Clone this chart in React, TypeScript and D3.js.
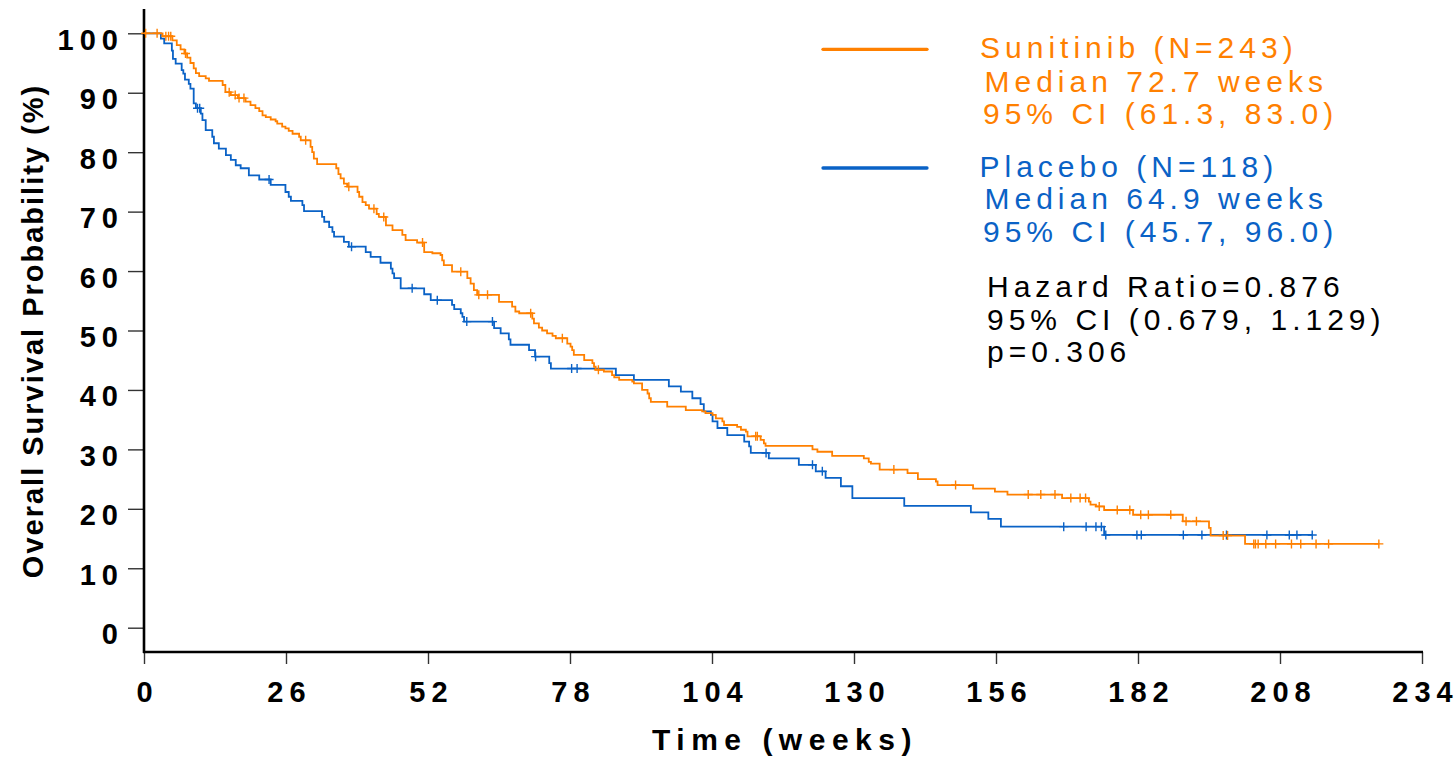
import React, { useEffect, useRef } from "react";
import * as d3 from "d3";

// Kaplan-Meier steps: [week, survival %]
const sunitinibSteps: [number, number][] = [
  [0, 100], [3.4, 99.5], [5.2, 98.8], [6.0, 98.0], [6.7, 97.3], [7.4, 96.6], [7.9, 95.9], [8.5, 95.0],
  [9.1, 94.1], [9.5, 93.3], [10.1, 92.8], [11.3, 92.4], [11.9, 92.0], [14.4, 91.3], [14.9, 90.1],
  [15.9, 89.6], [17.2, 89.1], [18.6, 88.5], [19.5, 87.9], [20.4, 87.4], [21.1, 86.9], [21.7, 86.2],
  [22.3, 85.9], [23.2, 85.5], [24.1, 85.2], [24.4, 84.8], [25.3, 84.3], [25.9, 84.0], [26.5, 83.6],
  [27.2, 83.1], [28.4, 82.6], [28.7, 82.0], [30.5, 80.9], [30.8, 80.0], [31.1, 78.9], [31.7, 78.0],
  [35.2, 77.3], [35.6, 76.3], [36.0, 75.6], [36.6, 74.7], [37.2, 74.2], [39.1, 73.3], [39.4, 72.5],
  [40.0, 71.6], [40.6, 71.1], [41.2, 70.5], [42.6, 69.6], [43.0, 69.1], [44.3, 67.7], [45.5, 66.9],
  [47.3, 66.1], [47.9, 65.2], [50.0, 64.8], [51.3, 63.2], [52.8, 63.0], [54.3, 62.7], [54.6, 61.8],
  [54.9, 61.0], [56.4, 59.9], [59.2, 58.8], [59.8, 57.9], [60.4, 56.8], [61.0, 56.0], [65.0, 54.8],
  [67.4, 54.0], [68.0, 53.2], [68.7, 52.9], [71.1, 52.0], [71.4, 51.2], [72.3, 50.5], [72.9, 50.0],
  [73.8, 49.5], [74.8, 49.1], [75.4, 48.7], [77.5, 47.8], [78.1, 47.3], [78.4, 46.7], [78.7, 45.9],
  [80.6, 45.0], [82.1, 44.5], [82.4, 43.9], [82.7, 43.4], [84.2, 43.1], [85.7, 42.5], [86.1, 42.1],
  [87.0, 41.7], [89.4, 41.4], [89.7, 41.1], [91.2, 40.0], [92.2, 39.4], [92.5, 38.6], [92.8, 38.0],
  [95.8, 37.2], [99.2, 36.6], [102.2, 36.4], [102.8, 36.1], [104.1, 35.8], [104.7, 35.2], [105.9, 34.7],
  [106.2, 34.1], [108.6, 33.8], [109.3, 33.3], [110.2, 33.0], [110.5, 32.2], [112.9, 31.6], [113.5, 31.0],
  [113.8, 30.6], [122.4, 30.0], [123.3, 29.6], [126.0, 28.9], [131.8, 28.5], [132.7, 27.9], [133.1, 27.6],
  [134.7, 26.6], [139.8, 26.0], [141.7, 25.0], [145.0, 24.6], [145.3, 24.0], [151.8, 23.4], [155.8, 22.9],
  [158.1, 22.4], [168.1, 21.8], [173.0, 21.2], [173.3, 20.7], [174.3, 20.4], [175.8, 19.8], [181.1, 19.0],
  [190.2, 17.9], [195.0, 16.8], [195.3, 15.5], [201.6, 14.1],
];
const sunitinibEnd = 226.1;
const sunitinibCensor = [
  0.3, 2.4, 4.0, 4.5, 4.9, 7.6, 15.6, 16.7, 17.4, 18.3, 29.6, 37.5, 42.1, 43.9, 51.0, 58.0, 61.3, 62.9,
  70.8, 76.6, 83.2, 112.0, 112.3, 137.3, 148.6, 161.9, 164.2, 166.8, 169.7, 171.4, 172.4, 174.9, 178.2,
  180.5, 182.5, 183.9, 188.0, 190.8, 192.7, 197.6, 198.4, 203.2, 203.5, 204.0, 205.4, 207.2, 210.1,
  211.8, 214.6, 216.9, 226.1,
];

const placeboSteps: [number, number][] = [
  [0, 100], [3.1, 99.1], [3.7, 98.3], [5.1, 97.1], [5.3, 95.7], [5.8, 94.9], [6.9, 93.8], [7.2, 93.2],
  [7.5, 92.2], [8.2, 91.5], [8.5, 90.7], [9.1, 88.2], [9.5, 87.4], [10.4, 86.5], [10.7, 85.4], [11.3, 83.7],
  [12.5, 82.6], [12.8, 81.5], [13.7, 80.6], [15.0, 79.5], [15.9, 78.7], [16.8, 77.8], [17.7, 77.3],
  [19.2, 76.1], [21.1, 75.4], [23.2, 74.5], [25.9, 73.3], [26.5, 72.5], [26.9, 71.8], [29.0, 71.1],
  [29.3, 70.1], [32.6, 69.1], [33.0, 68.3], [33.9, 67.4], [34.5, 66.6], [34.8, 65.8], [36.6, 64.9],
  [37.5, 64.1], [40.6, 63.2], [41.5, 62.4], [43.3, 61.4], [45.2, 60.4], [45.5, 59.6], [45.8, 58.8],
  [47.0, 57.1], [51.3, 56.1], [52.5, 55.1], [56.4, 54.3], [56.8, 53.6], [58.0, 52.9], [58.3, 52.3],
  [58.6, 51.5], [64.1, 50.4], [65.3, 49.5], [66.8, 48.5], [67.1, 47.6], [70.5, 46.7], [71.6, 45.6],
  [74.2, 44.5], [74.5, 43.6], [86.4, 42.5], [89.7, 41.7], [96.1, 40.6], [98.3, 39.7], [100.4, 38.6],
  [101.9, 37.6], [102.5, 36.4], [103.8, 35.8], [104.1, 34.7], [105.0, 33.6], [106.8, 32.4], [109.9, 31.3],
  [110.8, 30.5], [111.1, 29.4], [114.4, 28.5], [119.9, 27.4], [123.0, 26.3], [124.8, 25.2], [127.6, 23.8],
  [129.7, 21.8], [139.2, 20.5], [151.4, 19.4], [154.6, 18.3], [156.9, 17.0], [175.8, 15.6],
];
const placeboEnd = 213.9;
const placeboCensor = [
  9.8, 10.2, 22.9, 38.0, 49.1, 53.7, 59.1, 63.8, 71.7, 78.3, 79.3, 113.9, 122.4, 124.2, 168.4, 172.5,
  174.3, 175.3, 176.1, 181.8, 182.6, 190.3, 193.7, 198.2, 205.6, 209.7, 211.1, 213.9,
];

const xTicks = [0, 26, 52, 78, 104, 130, 156, 182, 208, 234];
const yTicks = [0, 10, 20, 30, 40, 50, 60, 70, 80, 90, 100];

const sunitinibLabel = ["Sunitinib (N=243)", "Median 72.7 weeks", "95% CI (61.3, 83.0)"];
const placeboLabel = ["Placebo (N=118)", "Median 64.9 weeks", "95% CI (45.7, 96.0)"];
const statsLabel = ["Hazard Ratio=0.876", "95% CI (0.679, 1.129)", "p=0.306"];

const ORANGE = "#ff8000";
const BLUE = "#0a62c6";
const FONT = "'Liberation Sans', Arial, Helvetica, sans-serif";

function survivalAt(steps: [number, number][], t: number) {
  let s = steps[0][1];
  for (const [time, v] of steps) {
    if (time <= t) s = v;
    else break;
  }
  return s;
}

// spaced digits without trailing letter-spacing, so anchors stay on the ink
function spaceOut(sel: any, gap: number) {
  sel.each(function (this: SVGTextElement) {
    const t = d3.select(this);
    const s = t.text();
    t.text(null);
    s.split("").forEach((c, i) => {
      t.append("tspan").attr("dx", i ? gap : 0).text(c);
    });
  });
}

export default function App() {
  const ref = useRef<SVGSVGElement>(null);

  useEffect(() => {
    document.body.style.margin = "0";
    const svg = d3.select(ref.current);
    svg.selectAll("*").remove();

    const x = d3.scaleLinear().domain([0, 234]).range([144, 1422]);
    const y = d3.scaleLinear().domain([0, 100]).range([627.7, 33.3]);
    const axisY = 652;

    // x axis ticks + labels
    const gx = svg.append("g")
      .attr("transform", `translate(0,${axisY})`)
      .call(d3.axisBottom(x).tickValues(xTicks).tickSize(12).tickSizeOuter(0));
    gx.select(".domain").remove();
    gx.selectAll("line").attr("stroke", "#333").attr("stroke-width", 1.4);
    gx.selectAll("text")
      .attr("y", 50).attr("dy", 0)
      .attr("fill", "#000")
      .style("font-family", FONT).style("font-size", "29px").style("font-weight", "bold");
    spaceOut(gx.selectAll("text"), 6);

    // y axis ticks + labels
    const gy = svg.append("g")
      .attr("transform", "translate(144,0)")
      .call(d3.axisLeft(y).tickValues(yTicks).tickSize(16).tickSizeOuter(0));
    gy.select(".domain").remove();
    gy.selectAll("line").attr("stroke", "#333").attr("stroke-width", 1.4);
    gy.selectAll("text")
      .attr("x", -26).attr("dy", 16)
      .attr("fill", "#000")
      .style("font-family", FONT).style("font-size", "29px").style("font-weight", "bold");
    spaceOut(gy.selectAll("text"), 6);

    // axis lines
    svg.append("line")
      .attr("x1", 144).attr("x2", 144).attr("y1", 9).attr("y2", axisY + 1)
      .attr("stroke", "#000").attr("stroke-width", 2.6);
    svg.append("line")
      .attr("x1", 143).attr("x2", x(234) + 1).attr("y1", axisY).attr("y2", axisY)
      .attr("stroke", "#000").attr("stroke-width", 2.6);

    // curves
    const line = d3.line<[number, number]>()
      .x(d => x(d[0]))
      .y(d => y(d[1]))
      .curve(d3.curveStepAfter);

    const groups = [
      { steps: placeboSteps, end: placeboEnd, censor: placeboCensor, color: BLUE },
      { steps: sunitinibSteps, end: sunitinibEnd, censor: sunitinibCensor, color: ORANGE },
    ];

    groups.forEach(g => {
      const pts: [number, number][] = [...g.steps, [g.end, g.steps[g.steps.length - 1][1]]];
      svg.append("path")
        .datum(pts)
        .attr("d", line)
        .attr("fill", "none")
        .attr("stroke", g.color)
        .attr("stroke-width", 1.8);

      svg.append("g")
        .selectAll("path")
        .data(g.censor)
        .enter().append("path")
        .attr("d", t => {
          const cx = x(t);
          const cy = y(survivalAt(g.steps, t));
          return `M${cx - 4.5},${cy}h9M${cx},${cy - 4.5}v9`;
        })
        .attr("stroke", g.color)
        .attr("stroke-width", 1.4)
        .attr("fill", "none");
    });

    // axis titles
    svg.append("text")
      .attr("x", 785).attr("y", 750)
      .attr("text-anchor", "middle")
      .style("font-family", FONT).style("font-size", "30px").style("font-weight", "bold")
      .style("letter-spacing", "6.5px")
      .text("Time (weeks)");

    svg.append("text")
      .attr("transform", "translate(42.5,331) rotate(-90)")
      .attr("text-anchor", "middle")
      .style("font-family", FONT).style("font-size", "29px").style("font-weight", "bold")
      .style("letter-spacing", "2px")
      .text("Overall Survival Probability (%)");

    // legend
    const legend = [
      { lines: sunitinibLabel, color: ORANGE, lineY: 49.3, xs: [980, 984.5, 983], ys: [58.3, 91.7, 123.5] },
      { lines: placeboLabel, color: BLUE, lineY: 168, xs: [979.5, 984.5, 983], ys: [176.7, 209.3, 241.7] },
    ];
    legend.forEach(l => {
      svg.append("line")
        .attr("x1", 823).attr("x2", 927).attr("y1", l.lineY).attr("y2", l.lineY)
        .attr("stroke", l.color).attr("stroke-width", 3.3).attr("stroke-linecap", "round");
      l.lines.forEach((s, i) => {
        svg.append("text")
          .attr("x", l.xs[i]).attr("y", l.ys[i])
          .attr("fill", l.color)
          .style("font-family", FONT).style("font-size", "30px")
          .style("letter-spacing", "5px")
          .text(s);
      });
    });

    const statsY = [296.7, 330, 362];
    statsLabel.forEach((s, i) => {
      svg.append("text")
        .attr("x", 987).attr("y", statsY[i])
        .attr("fill", "#000")
        .style("font-family", FONT).style("font-size", "30px")
        .style("letter-spacing", "5px")
        .text(s);
    });
  }, []);

  return <svg ref={ref} width={1455} height={760} style={{ display: "block", background: "#fff" }} />;
}
